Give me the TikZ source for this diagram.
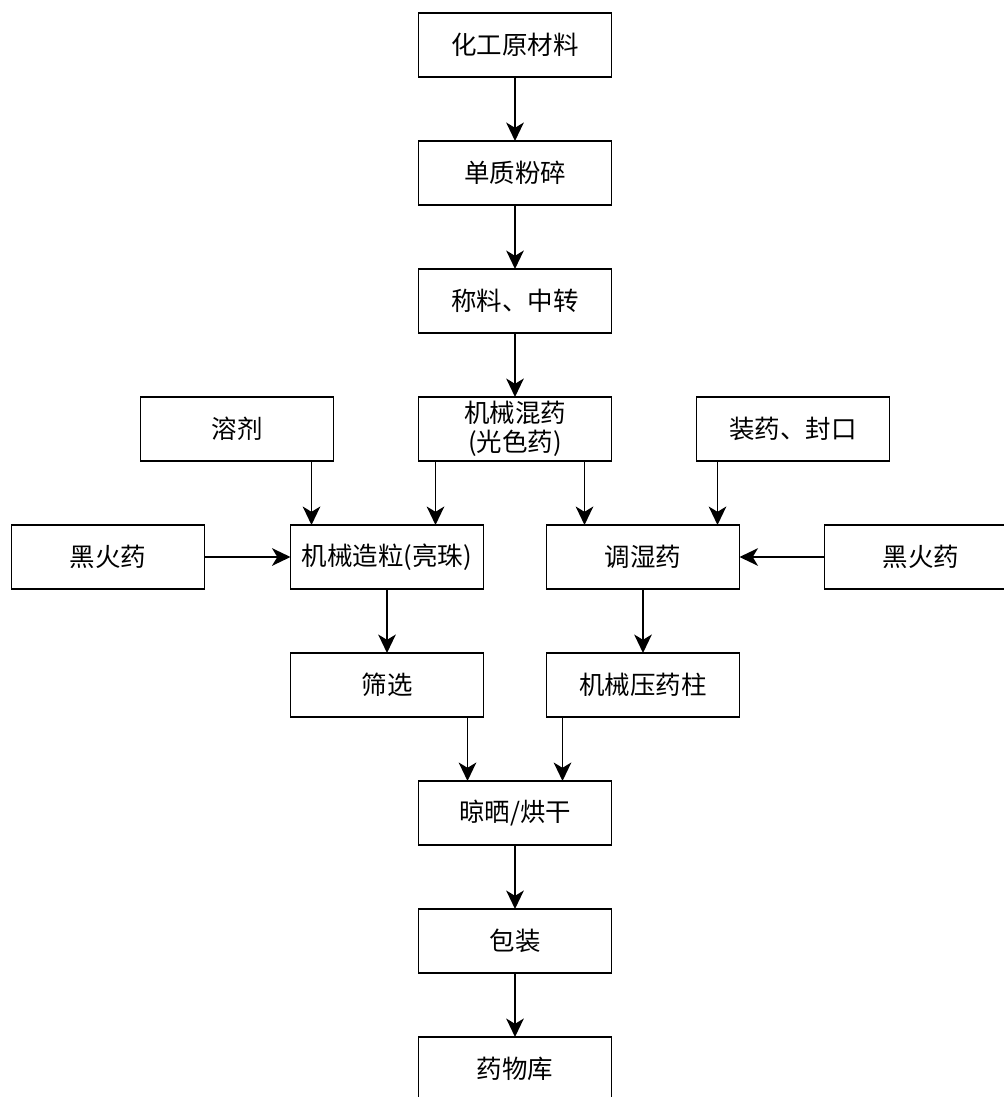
\documentclass[tikz,border=0pt]{standalone}
\usepackage{fontspec}
\setmainfont{Noto Sans CJK SC}
\usepackage{tikz}
\usetikzlibrary{
  arrows.meta,
  positioning,
  calc
}

\begin{document}
\begin{tikzpicture}[
  node distance=1.28cm and 1.7cm,
  proc/.style={rectangle, draw=black, fill=white, line width=1.1pt, outer sep=0pt, minimum width=3.86cm, minimum height=1.28cm, inner sep=2pt, align=center, font=\fontsize{14.5}{16.5}\selectfont},
  arr/.style={-{Stealth[length=10.5pt, width=10pt, inset=3pt]}, line width=1.1pt},
]
\useasboundingbox (0,0) rectangle (20.06,-21.94);

% Nodos principales
\node[proc] (raw) at (10.30,-0.90) {化工原材料};
\node[proc, below=of raw] (crush) {单质粉碎};
\node[proc, below=of crush] (weigh) {称料、中转};
\node[proc, below=of weigh] (mix) {机械混药\\(光色药)};
\node[proc, left=of mix] (solv) {溶剂};
\node[proc, right=of mix] (seal) {装药、封口};
\node[proc, below=of mix, xshift=-2.56cm] (gran) {机械造粒(亮珠)};
\node[proc, below=of mix, xshift=2.56cm] (damp) {调湿药};
\node[proc, left=1.72cm of gran] (bpl) {黑火药};
\node[proc, right=of damp] (bpr) {黑火药};
\node[proc, below=of gran] (sieve) {筛选};
\node[proc, below=of damp] (press) {机械压药柱};
\node[proc, below=of sieve, xshift=2.56cm] (dry) {晾晒/烘干};
\node[proc, below=of dry] (pack) {包装};
\node[proc, below=of pack] (store) {药物库};

% Flechas principales
\draw[arr] (raw) -- (crush);
\draw[arr] (crush) -- (weigh);
\draw[arr] (weigh) -- (mix);

% Entradas de los dos ramales
\draw[arr] ([xshift=0.42cm]gran.north west |- solv.south) -- ([xshift=0.42cm]gran.north west);
\draw[arr] ([xshift=0.34cm]mix.south west) -- ([xshift=0.34cm]mix.south west |- gran.north);
\draw[arr] ([xshift=-0.54cm]mix.south east) -- ([xshift=-0.54cm]mix.south east |- damp.north);
\draw[arr] ([xshift=0.42cm]seal.south west) -- ([xshift=0.42cm]seal.south west |- damp.north);
\draw[arr] (bpl) -- (gran);
\draw[arr] (bpr) -- (damp);

% Ramales
\draw[arr] (gran) -- (sieve);
\draw[arr] (damp) -- (press);
\draw[arr] ([xshift=-0.32cm]sieve.south east) -- ([xshift=-0.32cm]sieve.south east |- dry.north);
\draw[arr] ([xshift=0.32cm]press.south west) -- ([xshift=0.32cm]press.south west |- dry.north);

% Final
\draw[arr] (dry) -- (pack);
\draw[arr] (pack) -- (store);

\end{tikzpicture}
\end{document}
